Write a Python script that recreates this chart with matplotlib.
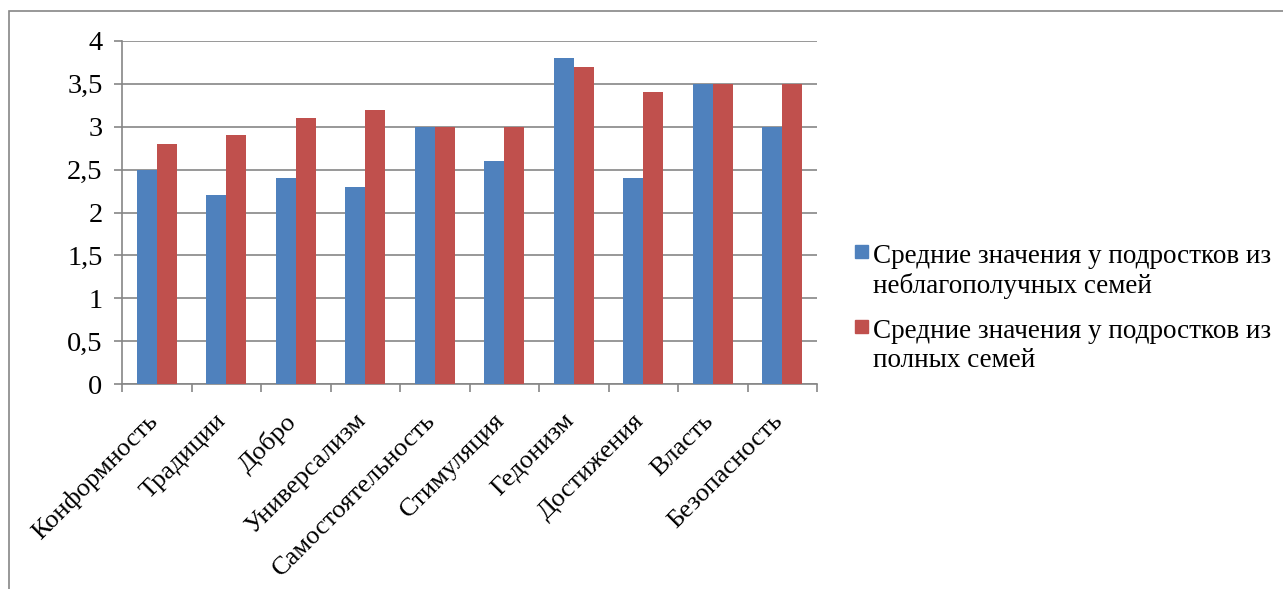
import numpy as np
import matplotlib.pyplot as plt
from matplotlib.patches import Rectangle
from matplotlib.ticker import FuncFormatter
from matplotlib.transforms import ScaledTranslation

# данные
categories = ['Конформность', 'Традиции', 'Добро', 'Универсализм', 'Самостоятельность',
              'Стимуляция', 'Гедонизм', 'Достижения', 'Власть', 'Безопасность']
neblag = [2.5, 2.2, 2.4, 2.3, 3.0, 2.6, 3.8, 2.4, 3.5, 3.0]
polnye = [2.8, 2.9, 3.1, 3.2, 3.0, 3.0, 3.7, 3.4, 3.5, 3.5]
series_names = ['Средние значения у подростков из\nнеблагополучных семей',
                'Средние значения у подростков из\nполных семей']
colors = ['#4F81BD', '#C0504D']
yticks = np.arange(0, 4.01, 0.5)

plt.rcParams['font.family'] = ['Liberation Serif', 'DejaVu Serif']
grey = '#868686'

fig = plt.figure(figsize=(12.83, 5.89), dpi=100)
ax = fig.add_axes([122/1283, 1-384/589, (817-122)/1283, (384-41)/589])

x = np.arange(len(categories))
w = 0.29
ax.bar(x - w/2, neblag, w, color=colors[0], zorder=3)
ax.bar(x + w/2, polnye, w, color=colors[1], zorder=3)

ax.set_xlim(-0.5, len(categories) - 0.5)
ax.set_ylim(0, 4)
ax.set_yticks(yticks)
ax.yaxis.set_major_formatter(FuncFormatter(lambda v, p: ('%g' % v).replace('.', ',')))
ax.grid(axis='y', color=grey, lw=1.2, zorder=0)
ax.tick_params(axis='y', length=6, color=grey, width=1.2, labelsize=20.5, pad=8)

ax.set_xticks(x)
ax.set_xticklabels(categories, rotation=45, ha='right', rotation_mode='anchor', fontsize=19)
ax.set_xticks(np.arange(-0.5, len(categories)), minor=True)
ax.tick_params(axis='x', which='major', length=0, pad=12)
ax.tick_params(axis='x', which='minor', length=6, color=grey, width=1.2)
# сдвиг подписей чуть влево и вниз
shift = ScaledTranslation(-11/100, -9/100, fig.dpi_scale_trans)
for lab in ax.get_xticklabels():
    lab.set_transform(lab.get_transform() + shift)

for s in ['top', 'right']:
    ax.spines[s].set_visible(False)
for s in ['left', 'bottom']:
    ax.spines[s].set_color(grey)
    ax.spines[s].set_linewidth(1.2)

# легенда
leg_y = [251, 326]
for i, name in enumerate(series_names):
    yy = 1 - leg_y[i]/589
    fig.patches.append(Rectangle((855/1283, yy - 6.5/589), 13/1283, 13/589,
                                 transform=fig.transFigure, color=colors[i]))
    fig.text(873/1283, yy + 0.012, name, fontsize=19.5, va='top', ha='left',
             linespacing=1.22)

# рамка диаграммы
fig.patches.append(Rectangle((9/1283, -0.1), 1.2, 1.1 - 11/589,
                             transform=fig.transFigure, fill=False,
                             edgecolor=grey, lw=1.2))

fig.savefig('out.png', dpi=100)
